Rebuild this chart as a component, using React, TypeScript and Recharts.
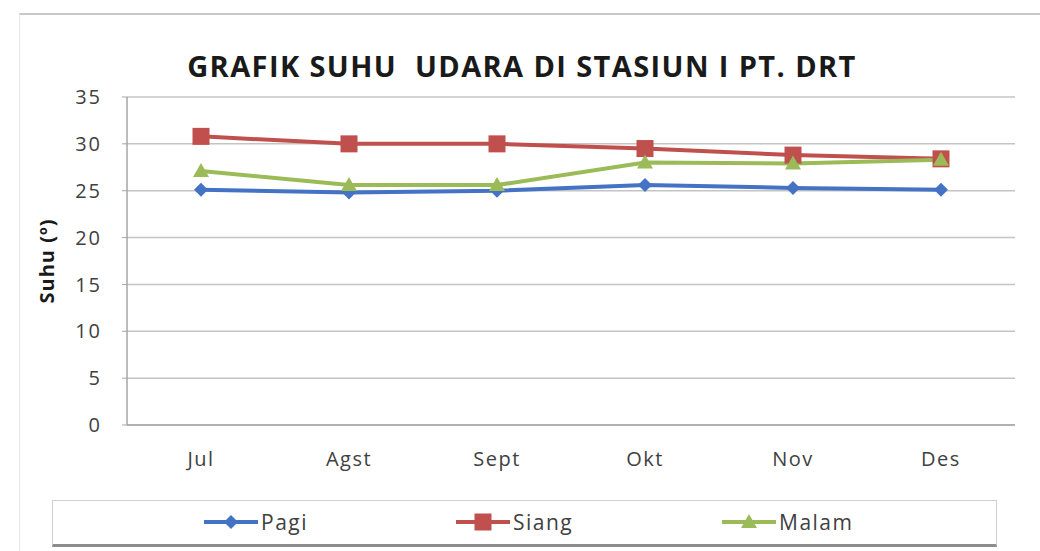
import { CartesianGrid, Line, LineChart, XAxis, YAxis } from "recharts";

const months = ["Jul", "Agst", "Sept", "Okt", "Nov", "Des"];
const pagi = [25.1, 24.8, 25.0, 25.6, 25.3, 25.1];
const siang = [30.8, 30.0, 30.0, 29.5, 28.8, 28.4];
const malam = [27.1, 25.6, 25.6, 28.0, 27.9, 28.3];
const yTicks = [0, 5, 10, 15, 20, 25, 30, 35];

const FONT = "'Open Sans', sans-serif";
const BLUE = "#4472c4";
const RED = "#c0504d";
const GREEN = "#9bbb59";

const data = months.map((m, i) => ({
  name: m,
  Pagi: pagi[i],
  Siang: siang[i],
  Malam: malam[i],
}));

type Shape = "diamond" | "square" | "triangle";

function Marker({ cx, cy, shape, color }: { cx: number; cy: number; shape: Shape; color: string }) {
  if (shape === "diamond") {
    const r = 7;
    return <polygon points={`${cx},${cy - r} ${cx + r},${cy} ${cx},${cy + r} ${cx - r},${cy}`} fill={color} />;
  }
  if (shape === "square") {
    const r = 8.5;
    return <rect x={cx - r} y={cy - r} width={r * 2} height={r * 2} fill={color} />;
  }
  const r = 8;
  return <polygon points={`${cx},${cy - r} ${cx + r},${cy + r * 0.75} ${cx - r},${cy + r * 0.75}`} fill={color} />;
}

function dotFor(shape: Shape, color: string) {
  return (props: any) => {
    const { cx, cy, index } = props;
    if (cx == null || cy == null) return <g key={index} />;
    return <Marker key={index} cx={cx} cy={cy} shape={shape} color={color} />;
  };
}

const legendItems: { label: string; color: string; shape: Shape; left: number }[] = [
  { label: "Pagi", color: BLUE, shape: "diamond", left: 150 },
  { label: "Siang", color: RED, shape: "square", left: 402 },
  { label: "Malam", color: GREEN, shape: "triangle", left: 668 },
];

function LegendBox() {
  return (
    <div
      style={{
        position: "absolute",
        left: 52,
        top: 500,
        width: 943,
        height: 43,
        border: "1px solid #d0d0d0",
        borderBottom: "3px solid #8c8c8c",
        background: "#fff",
      }}
    >
      {legendItems.map((it) => (
        <div
          key={it.label}
          style={{ position: "absolute", left: it.left, top: 7, display: "flex", alignItems: "center", height: 28 }}
        >
          <svg width={56} height={20}>
            <line x1={1} y1={10} x2={55} y2={10} stroke={it.color} strokeWidth={4} />
            <Marker cx={28} cy={10} shape={it.shape} color={it.color} />
          </svg>
          <span style={{ fontFamily: FONT, fontSize: 21, letterSpacing: 1.5, color: "#404040", marginLeft: 2 }}>
            {it.label}
          </span>
        </div>
      ))}
    </div>
  );
}

export default function App() {
  return (
    <div style={{ position: "absolute", left: 0, top: 0, width: 1040, height: 551, background: "#fff", overflow: "hidden" }}>
      <div
        style={{
          position: "absolute",
          left: 19,
          top: 13,
          width: 1040,
          height: 560,
          borderTop: "2px solid #c8c8c8",
          borderLeft: "1px solid #e6e6e6",
        }}
      />
      <div
        style={{
          position: "absolute",
          left: 0,
          width: 1040,
          top: 46,
          textAlign: "center",
          fontFamily: FONT,
          fontWeight: "bold",
          fontSize: 29,
          letterSpacing: 1.4,
          color: "#1a1a1a",
          whiteSpace: "pre",
          paddingLeft: 2,
        }}
      >
        GRAFIK SUHU  UDARA DI STASIUN I PT. DRT
      </div>
      <div style={{ position: "absolute", left: 0, top: 0 }}>
        <LineChart
          width={1040}
          height={551}
          data={data}
          margin={{ top: 97, right: 25, left: 67, bottom: 86 }}
        >
          <CartesianGrid vertical={false} stroke="#c4c4c4" strokeWidth={1.5} />
          <XAxis
            dataKey="name"
            padding={{ left: 74, right: 74 }}
            height={40}
            axisLine={{ stroke: "#a6a6a6", strokeWidth: 1.5 }}
            tickLine={false}
            tickMargin={21}
            tick={{ fontFamily: FONT, fontSize: 20, letterSpacing: 1.5, fill: "#404040" }}
          />
          <YAxis
            width={60}
            domain={[0, 35]}
            ticks={yTicks}
            interval={0}
            axisLine={{ stroke: "#a6a6a6", strokeWidth: 1.5 }}
            tickLine={{ stroke: "#a6a6a6" }}
            tickSize={5}
            tickMargin={20}
            tick={{ fontFamily: FONT, fontSize: 20, letterSpacing: 2, fill: "#404040" }}
            label={{
              value: "Suhu (º)",
              angle: -90,
              position: "insideLeft",
              offset: -20,
              style: { fontFamily: FONT, fontSize: 20, fontWeight: "bold", letterSpacing: 1, fill: "#1a1a1a", textAnchor: "middle" },
            }}
          />
          <Line
            dataKey="Pagi"
            stroke={BLUE}
            strokeWidth={4}
            dot={dotFor("diamond", BLUE)}
            activeDot={false}
            isAnimationActive={false}
          />
          <Line
            dataKey="Siang"
            stroke={RED}
            strokeWidth={4}
            dot={dotFor("square", RED)}
            activeDot={false}
            isAnimationActive={false}
          />
          <Line
            dataKey="Malam"
            stroke={GREEN}
            strokeWidth={4}
            dot={dotFor("triangle", GREEN)}
            activeDot={false}
            isAnimationActive={false}
          />
        </LineChart>
      </div>
      <LegendBox />
    </div>
  );
}
